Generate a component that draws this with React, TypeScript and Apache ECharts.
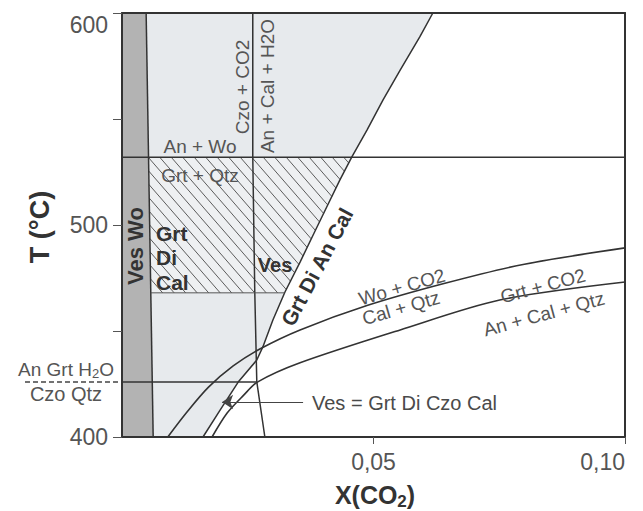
import React, { useEffect, useRef } from 'react';
import * as echarts from 'echarts';

// ---- data (X(CO2), T °C) ----
const xTickValues = [0.05, 0.1];
const yTickValues = [400, 500, 600];

const darkBandEdge = [[0.0048, 600], [0.0062, 400]];
const czoLine = [[0.026, 600], [0.026, 532], [0.0264, 468], [0.0268, 426], [0.0284, 400]];
const grtDiAnCal = [
  [0.0618, 600], [0.0592, 588.7], [0.0553, 573.1], [0.0519, 559.0], [0.0487, 544.8],
  [0.0457, 532.1], [0.0433, 521.2], [0.0407, 508.5], [0.038, 495.3], [0.0354, 482.5],
  [0.0324, 468.4], [0.03, 455.2], [0.028, 442.5], [0.0268, 436.3], [0.0231, 425.9],
  [0.0195, 412.7], [0.0161, 400],
];
const woCurve = [
  [0.0091, 400], [0.013, 412], [0.0172, 423.5], [0.0221, 433.5], [0.0274, 441.5],
  [0.0354, 450.5], [0.0487, 462], [0.0642, 472.5], [0.08, 481.5], [0.1, 489.2],
];
const grtCurve = [
  [0.0179, 400], [0.0209, 411.3], [0.0241, 419.5], [0.027, 426], [0.0354, 435],
  [0.0553, 450.5], [0.0751, 464.6], [0.1, 473.1],
];
const isoTop = 532;
const isoHatchBottom = 468;
const isoCzoQtz = 426;
const arrowT = 416.5;
const arrowFromX = 0.036;
const arrowToX = 0.0199;

// ---- helpers ----
const edgeXAt = (T: number) => {
  const [[x1, t1], [x2, t2]] = darkBandEdge;
  return x1 + ((T - t1) / (t2 - t1)) * (x2 - x1);
};
const curveXAt = (curve: number[][], T: number) => {
  for (let i = 0; i < curve.length - 1; i++) {
    const [xa, ta] = curve[i];
    const [xb, tb] = curve[i + 1];
    if ((T - ta) * (T - tb) <= 0 && ta !== tb) {
      return xa + ((T - ta) / (tb - ta)) * (xb - xa);
    }
  }
  return curve[curve.length - 1][0];
};

const darkBandPoly = [[0, 600], darkBandEdge[0], darkBandEdge[1], [0, 400]];
const lightPoly = [darkBandEdge[0], ...grtDiAnCal, darkBandEdge[1]];
const hatchPoly = [
  [edgeXAt(isoTop), isoTop],
  [curveXAt(grtDiAnCal, isoTop), isoTop],
  ...grtDiAnCal.filter((p) => p[1] < isoTop && p[1] > isoHatchBottom),
  [curveXAt(grtDiAnCal, isoHatchBottom), isoHatchBottom],
  [edgeXAt(isoHatchBottom), isoHatchBottom],
];

const FONT = '"Liberation Sans", Arial, Helvetica, sans-serif';

function polySeries(points: number[][], fill: string, z: number) {
  return {
    type: 'custom',
    coordinateSystem: 'cartesian2d',
    data: [points[0]],
    z,
    silent: true,
    renderItem: (_p: any, api: any) => ({
      type: 'polygon',
      shape: { points: points.map((p) => api.coord(p)) },
      style: { fill, stroke: 'none' },
    }),
  };
}

function hatchSeries(points: number[][]) {
  return {
    type: 'custom',
    coordinateSystem: 'cartesian2d',
    data: [points[0]],
    z: 2,
    silent: true,
    renderItem: (_p: any, api: any) => {
      const pts = points.map((p) => api.coord(p));
      const s = 1.15;
      const step = 11.5 * s;
      const cs = pts.map((p: number[]) => p[1] - s * p[0]);
      const cmin = Math.min(...cs);
      const cmax = Math.max(...cs);
      const children: any[] = [
        { type: 'polygon', shape: { points: pts }, style: { fill: '#eef0f2', stroke: 'none' } },
      ];
      for (let c = Math.ceil(cmin / step) * step; c <= cmax; c += step) {
        const hits: number[][] = [];
        for (let i = 0; i < pts.length; i++) {
          const a = pts[i];
          const b = pts[(i + 1) % pts.length];
          const fa = a[1] - s * a[0] - c;
          const fb = b[1] - s * b[0] - c;
          if ((fa < 0) !== (fb < 0)) {
            const t = fa / (fa - fb);
            hits.push([a[0] + t * (b[0] - a[0]), a[1] + t * (b[1] - a[1])]);
          }
        }
        hits.sort((p, q) => p[0] - q[0]);
        for (let k = 0; k + 1 < hits.length; k += 2) {
          children.push({
            type: 'line',
            shape: { x1: hits[k][0], y1: hits[k][1], x2: hits[k + 1][0], y2: hits[k + 1][1] },
            style: { stroke: '#5c5c5c', lineWidth: 1 },
          });
        }
      }
      return { type: 'group', children };
    },
  };
}

function lineSeries(data: number[][], width = 1.5, color = '#333', smooth: any = false, extra: any = {}) {
  return {
    type: 'line',
    data,
    symbol: 'none',
    showSymbol: false,
    smooth,
    silent: true,
    z: 3,
    lineStyle: { color, width },
    ...extra,
  };
}

function txt(text: string, x: number, y: number, o: any = {}) {
  return {
    type: 'text',
    x,
    y,
    rotation: ((o.rot || 0) * Math.PI) / 180,
    z: 100,
    silent: true,
    style: {
      text,
      fill: o.color || '#555',
      fontSize: o.size || 19,
      fontWeight: o.bold ? 'bold' : 'normal',
      fontFamily: FONT,
      align: o.align || 'center',
      verticalAlign: 'middle',
      rich: o.rich,
    },
  };
}

const frameAxis = (pos: string) => ({
  type: 'value',
  position: pos,
  z: 10,
  axisLine: { show: true, onZero: false, lineStyle: { color: '#333', width: 2 } },
  axisTick: { show: false },
  axisLabel: { show: false },
  splitLine: { show: false },
});

export default function App() {
  const ref = useRef<HTMLDivElement>(null);
  useEffect(() => {
    if (!ref.current) return;
    const chart = echarts.init(ref.current, null, { renderer: 'svg' });
    chart.setOption({
      animation: false,
      backgroundColor: '#fff',
      textStyle: { fontFamily: FONT },
      grid: { left: 122, top: 13, width: 503, height: 424 },
      xAxis: [
        {
          type: 'value',
          min: 0,
          max: 0.1,
          interval: 0.05,
          position: 'bottom',
          z: 10,
          axisLine: { show: true, onZero: false, lineStyle: { color: '#333', width: 2 } },
          axisTick: { show: true, length: 7, customValues: xTickValues, lineStyle: { color: '#555', width: 1 } },
          axisLabel: {
            customValues: xTickValues,
            formatter: (v: number) => (v === 0 ? '' : v.toFixed(2).replace('.', ',')),
            fontSize: 23,
            color: '#555',
            margin: 13,
            alignMaxLabel: 'right',
            fontFamily: FONT,
          },
          splitLine: { show: false },
        },
        { ...frameAxis('top'), min: 0, max: 0.1 },
      ],
      yAxis: [
        {
          type: 'value',
          min: 400,
          max: 600,
          interval: 100,
          position: 'left',
          z: 10,
          axisLine: { show: true, onZero: false, lineStyle: { color: '#333', width: 2 } },
          axisTick: { show: true, length: 9, lineStyle: { color: '#555', width: 1 } },
          minorTick: { show: true, splitNumber: 2, length: 9, lineStyle: { color: '#555', width: 1 } },
          axisLabel: {
            customValues: yTickValues,
            fontSize: 23,
            color: '#555',
            margin: 14,
            verticalAlignMaxLabel: 'top',
            fontFamily: FONT,
          },
          splitLine: { show: false },
          minorSplitLine: { show: false },
        },
        { ...frameAxis('right'), min: 400, max: 600 },
      ],
      series: [
        polySeries(darkBandPoly, '#b3b3b3', 1),
        polySeries(lightPoly, '#e7eaed', 1),
        hatchSeries(hatchPoly),
        lineSeries(darkBandEdge),
        lineSeries(czoLine),
        lineSeries(grtDiAnCal),
        lineSeries(woCurve, 1.6, '#333', 0.3, {
          markLine: {
            silent: true,
            symbol: ['none', 'arrow'],
            symbolSize: 11,
            label: { show: false },
            lineStyle: { color: '#444', width: 1, type: 'solid' },
            data: [[{ coord: [arrowFromX, arrowT] }, { coord: [arrowToX, arrowT] }]],
          },
        }),
        lineSeries(grtCurve, 1.6, '#333', 0.3),
        lineSeries([[0, isoTop], [0.1, isoTop]]),
        lineSeries([[0, isoCzoQtz], [curveXAt(czoLine, isoCzoQtz), isoCzoQtz]]),
        lineSeries(
          [[edgeXAt(isoHatchBottom), isoHatchBottom], [curveXAt(grtDiAnCal, isoHatchBottom), isoHatchBottom]],
          1,
          '#555'
        ),
      ],
      graphic: [
        txt('An + Wo', 200, 146),
        txt('Grt + Qtz', 200, 175),
        txt('Czo + CO2', 242, 87, { rot: 90 }),
        txt('An + Cal + H2O', 267, 86, { rot: 90 }),
        txt('Ves Wo', 135, 246, { rot: 90, bold: true, size: 22, color: '#333' }),
        txt('Grt', 156, 233, { bold: true, size: 21, color: '#333', align: 'left' }),
        txt('Di', 156, 257, { bold: true, size: 21, color: '#333', align: 'left' }),
        txt('Cal', 156, 282, { bold: true, size: 21, color: '#333', align: 'left' }),
        txt('Ves', 275, 265, { bold: true, size: 20, color: '#333' }),
        txt('Grt Di An Cal', 317, 267, { rot: 62, bold: true, size: 21, color: '#333' }),
        txt('Wo + CO2', 402, 287, { rot: 16 }),
        txt('Cal + Qtz', 401, 308, { rot: 16 }),
        txt('Grt + CO2', 543, 286, { rot: 15 }),
        txt('An + Cal + Qtz', 544, 314, { rot: 15 }),
        txt('Ves = Grt Di Czo Cal', 312, 403, { size: 20, align: 'left', color: '#4a4a4a' }),
        txt('{a|An Grt H}{s|2}{a|O}', 66, 369, {
          rich: {
            a: { fontSize: 19, lineHeight: 22, fontFamily: FONT, fill: '#555' },
            s: { fontSize: 13, lineHeight: 14, verticalAlign: 'bottom', fontFamily: FONT, fill: '#555' },
          },
        }),
        txt('Czo Qtz', 66, 394, { size: 20 }),
        {
          type: 'line',
          z: 100,
          silent: true,
          shape: { x1: 25, y1: 382, x2: 119, y2: 382 },
          style: { stroke: '#444', lineWidth: 1.5, lineDash: [5, 3] },
        },
        txt('T (°C)', 40, 227, { rot: 90, bold: true, size: 27, color: '#333' }),
        txt('{a|X(CO}{s|2}{a|)}', 375, 495, {
          rich: {
            a: { fontSize: 25, fontWeight: 'bold', lineHeight: 30, fontFamily: FONT, fill: '#333' },
            s: { fontSize: 17, fontWeight: 'bold', lineHeight: 18, verticalAlign: 'bottom', fontFamily: FONT, fill: '#333' },
          },
        }),
      ],
    });
    return () => chart.dispose();
  }, []);
  return (
    <div
      ref={ref}
      style={{ position: 'absolute', left: 0, top: 0, width: 643, height: 511 }}
    />
  );
}
